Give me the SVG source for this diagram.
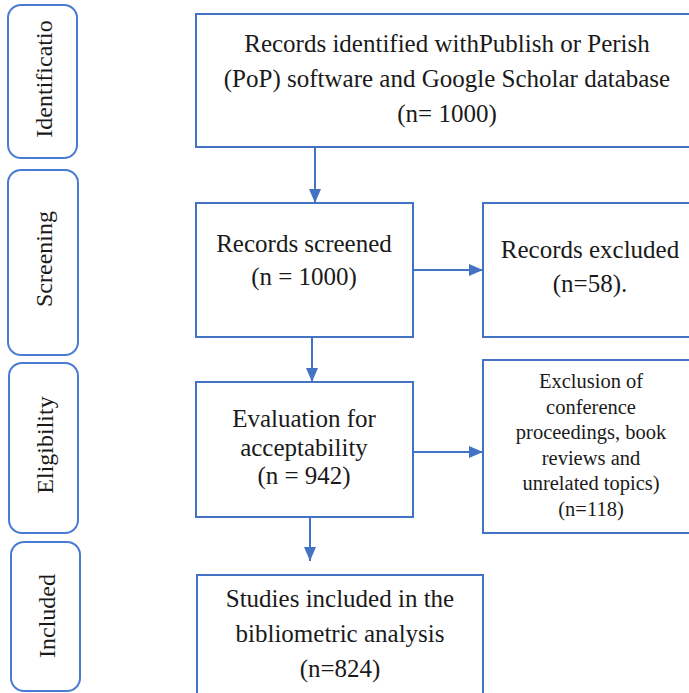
<svg xmlns="http://www.w3.org/2000/svg" width="689" height="693" viewBox="0 0 689 693">
<style>
.stage{fill:#fff;stroke:#4A7BD2;stroke-width:2}
.box{fill:#fff;stroke:#4472C4;stroke-width:2}
.boxtext{font-family:'Liberation Serif',serif;font-size:25px;fill:#1a1a1a;text-anchor:middle}
.small{font-size:20.5px}
.lbl{font-family:'Liberation Serif',serif;font-size:24px;fill:#1a1a1a;text-anchor:middle}
.c{stroke:#4472C4;stroke-width:2;fill:none;marker-end:url(#ah)}
</style>
<defs>
<marker id="ah" markerUnits="userSpaceOnUse" markerWidth="14" markerHeight="12" refX="14" refY="6" orient="auto">
<path d="M0,0 L14,6 L0,12 Z" fill="#4472C4"/>
</marker>
</defs>
<rect width="689" height="693" fill="#fff"/>
<g id="stage-identification">
<rect class="stage" x="8" y="5" width="69" height="153" rx="13"/>
<text class="lbl" transform="translate(52,79) rotate(-90)">Identificatio</text>
</g>
<g id="stage-screening">
<rect class="stage" x="8" y="170" width="70" height="185" rx="13"/>
<text class="lbl" transform="translate(52,259) rotate(-90)">Screening</text>
</g>
<g id="stage-eligibility">
<rect class="stage" x="9" y="363" width="69" height="170" rx="13"/>
<text class="lbl" transform="translate(53,445) rotate(-90)">Eligibility</text>
</g>
<g id="stage-included">
<rect class="stage" x="11" y="542" width="69" height="149" rx="13"/>
<text class="lbl" transform="translate(55,616) rotate(-90)">Included</text>
</g>
<g id="connectors">
<line class="c" x1="315" y1="147" x2="315" y2="203"/>
<line class="c" x1="413" y1="270" x2="483" y2="270"/>
<line class="c" x1="312" y1="337" x2="312" y2="382"/>
<line class="c" x1="413" y1="452" x2="483" y2="452"/>
<line class="c" x1="310" y1="517" x2="310" y2="561"/>
</g>
<g id="identified" font-family="Liberation Serif">
<rect class="box" x="196" y="14" width="510" height="133"/>
<text class="boxtext" x="447" y="52">Records identified withPublish  or Perish</text>
<text class="boxtext" x="447" y="87">(PoP) software and Google Scholar database</text>
<text class="boxtext" x="447" y="122">(n= 1000)</text>
</g>
<g id="screened" font-family="Liberation Serif">
<rect class="box" x="196" y="203" width="217" height="134"/>
<text class="boxtext" x="304" y="252">Records screened</text>
<text class="boxtext" x="304" y="285">(n = 1000)</text>
</g>
<g id="excluded" font-family="Liberation Serif">
<rect class="box" x="483" y="203" width="223" height="134"/>
<text class="boxtext" x="590" y="258">Records excluded</text>
<text class="boxtext" x="590" y="292">(n=58).</text>
</g>
<g id="evaluation" font-family="Liberation Serif">
<rect class="box" x="196" y="382" width="217" height="135"/>
<text class="boxtext" x="304" y="427">Evaluation for</text>
<text class="boxtext" x="304" y="456">acceptability</text>
<text class="boxtext" x="304" y="484">(n = 942)</text>
</g>
<g id="exclusion" font-family="Liberation Serif">
<rect class="box" x="483" y="360" width="223" height="173"/>
<text class="boxtext small" x="591" y="388">Exclusion of</text>
<text class="boxtext small" x="591" y="413.5">conference</text>
<text class="boxtext small" x="591" y="439">proceedings, book</text>
<text class="boxtext small" x="591" y="464.5">reviews  and</text>
<text class="boxtext small" x="591" y="490">unrelated topics)</text>
<text class="boxtext small" x="591" y="515.5">(n=118)</text>
</g>
<g id="included" font-family="Liberation Serif">
<rect class="box" x="197" y="575" width="286" height="130"/>
<text class="boxtext" x="340" y="607">Studies included in the</text>
<text class="boxtext" x="340" y="642">bibliometric  analysis</text>
<text class="boxtext" x="340" y="677">(n=824)</text>
</g>
</svg>
